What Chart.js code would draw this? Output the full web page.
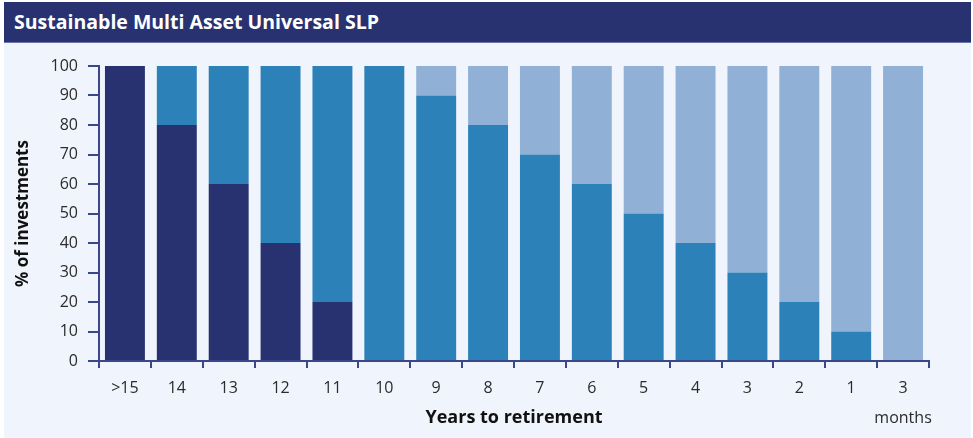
<!DOCTYPE html>
<html>
<head>
<meta charset="utf-8">
<script src="https://cdn.jsdelivr.net/npm/chart.js@4"></script>
<style>
  html, body { margin: 0; padding: 0; background: #ffffff; }
  #panel {
    position: absolute; left: 4px; top: 2px; width: 967px; height: 436px;
    background: #f0f4fc;
  }
  #banner {
    position: absolute; left: 0; top: 0; width: 967px; height: 41px;
    background: #283270; border-bottom: 1px solid #6c76ab;
    color: #ffffff; font: bold 19.5px "Open Sans", sans-serif;
    line-height: 40px; box-sizing: border-box; padding-left: 10px;
  }
  #chartBox { position: absolute; left: 0; top: 42px; width: 967px; height: 394px; }
</style>
</head>
<body>
<div id="panel">
  <div id="banner">Sustainable Multi Asset Universal SLP</div>
  <div id="chartBox"><canvas id="glideChart"></canvas></div>
</div>
<script>
// ------------------------- DATA -------------------------
const categories = ['>15', '14', '13', '12', '11', '10', '9', '8', '7', '6', '5', '4', '3', '2', '1', ['3', 'months']];
const growthValues = [100, 80, 60, 40, 20, 0, 0, 0, 0, 0, 0, 0, 0, 0, 0, 0];
const multiAssetValues = [0, 20, 40, 60, 80, 100, 90, 80, 70, 60, 50, 40, 30, 20, 10, 0];
const cashValues = [0, 0, 0, 0, 0, 0, 10, 20, 30, 40, 50, 60, 70, 80, 90, 100];
const yTicks = [0, 10, 20, 30, 40, 50, 60, 70, 80, 90, 100];

const NAVY = '#283270';
const MID_BLUE = '#2c81b8';
const LIGHT_BLUE = '#91b0d6';
const AXIS = '#3c4789';
const TEXT = '#2b2b2b';
const FONT = '"Open Sans", sans-serif';

// ------------------------- INIT -------------------------
window.onload = () => {
  const barStyle = { barPercentage: 0.77, categoryPercentage: 1.0, borderWidth: 0 };

  new Chart(document.getElementById('glideChart').getContext('2d'), {
    type: 'bar',
    data: {
      labels: categories,
      datasets: [
        { label: 'Growth', data: growthValues, backgroundColor: NAVY, ...barStyle },
        { label: 'Multi asset', data: multiAssetValues, backgroundColor: MID_BLUE, ...barStyle },
        { label: 'Cash', data: cashValues, backgroundColor: LIGHT_BLUE, ...barStyle }
      ]
    },
    options: {
      responsive: true,
      maintainAspectRatio: false,
      animation: false,
      layout: { padding: { left: 0, right: 42, top: 22, bottom: 7 } },
      plugins: { legend: { display: false }, tooltip: { enabled: false } },
      scales: {
        x: {
          stacked: true,
          border: { color: AXIS, width: 2 },
          grid: { display: true, drawOnChartArea: false, drawTicks: true, tickLength: 7, color: AXIS, lineWidth: 2, offset: true },
          ticks: { color: TEXT, font: { family: FONT, size: 16, lineHeight: '30px' }, padding: 5, maxRotation: 0, autoSkip: false },
          title: { display: true, text: 'Years to retirement', color: '#111', font: { family: FONT, size: 18, weight: 'bold' }, padding: { top: 0, bottom: 2 } },
          afterFit: (scale) => { scale.height = 70; }
        },
        y: {
          stacked: true,
          min: 0,
          max: 100,
          afterBuildTicks: (scale) => { scale.ticks = yTicks.map(v => ({ value: v })); },
          border: { color: AXIS, width: 2 },
          grid: { display: true, drawOnChartArea: false, drawTicks: true, tickLength: 11, color: AXIS, lineWidth: 2 },
          ticks: { color: TEXT, font: { family: FONT, size: 16 }, padding: 10 },
          title: { display: true, text: '% of investments', color: '#111', font: { family: FONT, size: 17, weight: 'bold' }, padding: { top: 9, bottom: 0 } },
          afterFit: (scale) => { scale.width = 95; }
        }
      }
    }
  });
};
</script>
</body>
</html>
